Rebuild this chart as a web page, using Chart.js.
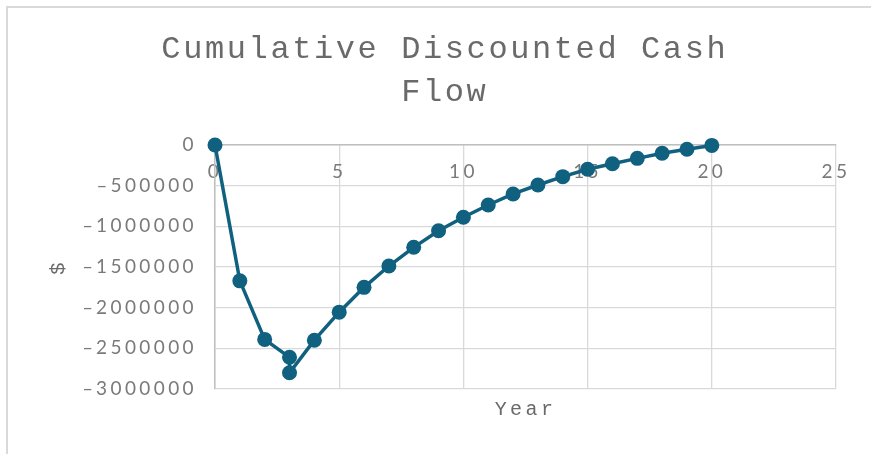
<!DOCTYPE html>
<html>
<head>
<meta charset="utf-8">
<script src="https://cdn.jsdelivr.net/npm/chart.js@4"></script>
<style>
  html, body { margin: 0; padding: 0; background: #fff; overflow: hidden; }
  #wrap { position: relative; width: 871px; height: 454px; }
</style>
</head>
<body>
<div id="wrap"><canvas id="c" width="871" height="454"></canvas></div>
<script>
// Chart text
const chartTitle = ['Cumulative Discounted Cash', 'Flow'];
const xTitle = 'Year';
const yTitle = '$';

// Year of each point (year 3 appears twice in the series)
const years = [0, 1, 2, 3, 3, 4, 5, 6, 7, 8, 9, 10, 11, 12, 13, 14, 15, 16, 17, 18, 19, 20];
// Cumulative discounted cash flow, $
const cumulativeDCF = [0, -1670000, -2390000, -2610000, -2800000, -2400000, -2055000, -1750000,
  -1488000, -1258000, -1054000, -889000, -738000, -602000, -492000, -389000, -299000,
  -230000, -164000, -102000, -53000, -5000];

// Axis ranges and tick steps
const xRange = [0, 25];
const xStep = 5;
const yRange = [-3000000, 0];
const yStep = 500000;

const points = years.map((yr, i) => ({ x: yr, y: cumulativeDCF[i] }));

const lineColor = '#10607f';
const gridColor = '#d9d9d9';
const axisColor = '#bfbfbf';
const tickColor = '#7a7a7a';
const titleColor = '#6a6a6a';
const monoFont = "'Liberation Mono', 'Courier New', monospace";
const tickFont = "Lato, 'DejaVu Sans', sans-serif";
const tickTracking = '3.4px';

// widen text tracking for axis text
const tracking = {
  id: 'tracking',
  beforeLayout(chart) { chart.ctx.letterSpacing = tickTracking; },
  beforeDraw(chart) { chart.ctx.letterSpacing = tickTracking; }
};

// white background and the light outer frame
const frame = {
  id: 'frame',
  beforeDraw(chart) {
    const ctx = chart.ctx;
    ctx.save();
    ctx.fillStyle = '#fff';
    ctx.fillRect(0, 0, chart.width, chart.height);
    ctx.strokeStyle = '#d9d9d9';
    ctx.lineWidth = 2;
    ctx.beginPath();
    ctx.moveTo(7, chart.height);
    ctx.lineTo(7, 7);
    ctx.lineTo(chart.width, 7);
    ctx.stroke();
    ctx.restore();
  }
};

// two-line chart heading, centred over the plot block
const heading = {
  id: 'heading',
  afterDraw(chart) {
    const ctx = chart.ctx;
    const spacing = 2.6;
    ctx.save();
    ctx.letterSpacing = spacing + 'px';
    ctx.font = "normal 32px " + monoFont;
    ctx.fillStyle = titleColor;
    ctx.textAlign = 'left';
    ctx.textBaseline = 'middle';
    const cx = 443.5;
    const lineYs = [50, 93];
    chartTitle.forEach((line, i) => {
      const w = ctx.measureText(line).width - spacing;
      ctx.fillText(line, cx - w / 2, lineYs[i]);
    });
    ctx.restore();
  }
};

new Chart(document.getElementById('c'), {
  type: 'scatter',
  data: {
    datasets: [{
      data: points,
      showLine: true,
      borderColor: lineColor,
      backgroundColor: lineColor,
      borderWidth: 3.5,
      pointRadius: 7.5,
      pointBorderWidth: 0,
      pointHoverRadius: 7.5,
      tension: 0,
      clip: false,
      xAxisID: 'x',
      yAxisID: 'y'
    }]
  },
  options: {
    responsive: false,
    animation: false,
    events: [],
    layout: { padding: { top: 145, right: 35, bottom: 0, left: 0 } },
    plugins: {
      legend: { display: false },
      tooltip: { enabled: false },
      title: { display: false }
    },
    scales: {
      x: {
        type: 'linear',
        position: { y: 0 },
        min: xRange[0],
        max: xRange[1],
        ticks: {
          stepSize: xStep,
          color: tickColor,
          font: { family: tickFont, size: 19 },
          padding: 15,
          maxRotation: 0
        },
        grid: { color: gridColor, lineWidth: 1.3, drawTicks: false },
        border: { color: axisColor, width: 1.5 }
      },
      xTitleAxis: {
        type: 'linear',
        axis: 'x',
        position: 'bottom',
        min: xRange[0],
        max: xRange[1],
        ticks: { display: false },
        grid: { display: false, drawTicks: false },
        border: { display: false },
        title: {
          display: true,
          text: xTitle,
          color: titleColor,
          font: { family: monoFont, size: 20 },
          padding: { top: 0, bottom: 32 }
        },
        afterFit(scale) { scale.height = 65; }
      },
      y: {
        type: 'linear',
        position: 'left',
        min: yRange[0],
        max: yRange[1],
        ticks: {
          stepSize: yStep,
          color: tickColor,
          font: { family: tickFont, size: 19 },
          padding: 18,
          callback: (v) => (v < 0 ? '\u2012' + Math.abs(v) : String(v))
        },
        grid: { color: gridColor, lineWidth: 1.3, drawTicks: false },
        border: { color: axisColor, width: 1.5 },
        title: {
          display: true,
          text: yTitle,
          color: titleColor,
          font: { family: monoFont, size: 21 },
          padding: { top: 46 }
        },
        afterFit(scale) { scale.width = 215; }
      }
    }
  },
  plugins: [frame, tracking, heading]
});
</script>
</body>
</html>
